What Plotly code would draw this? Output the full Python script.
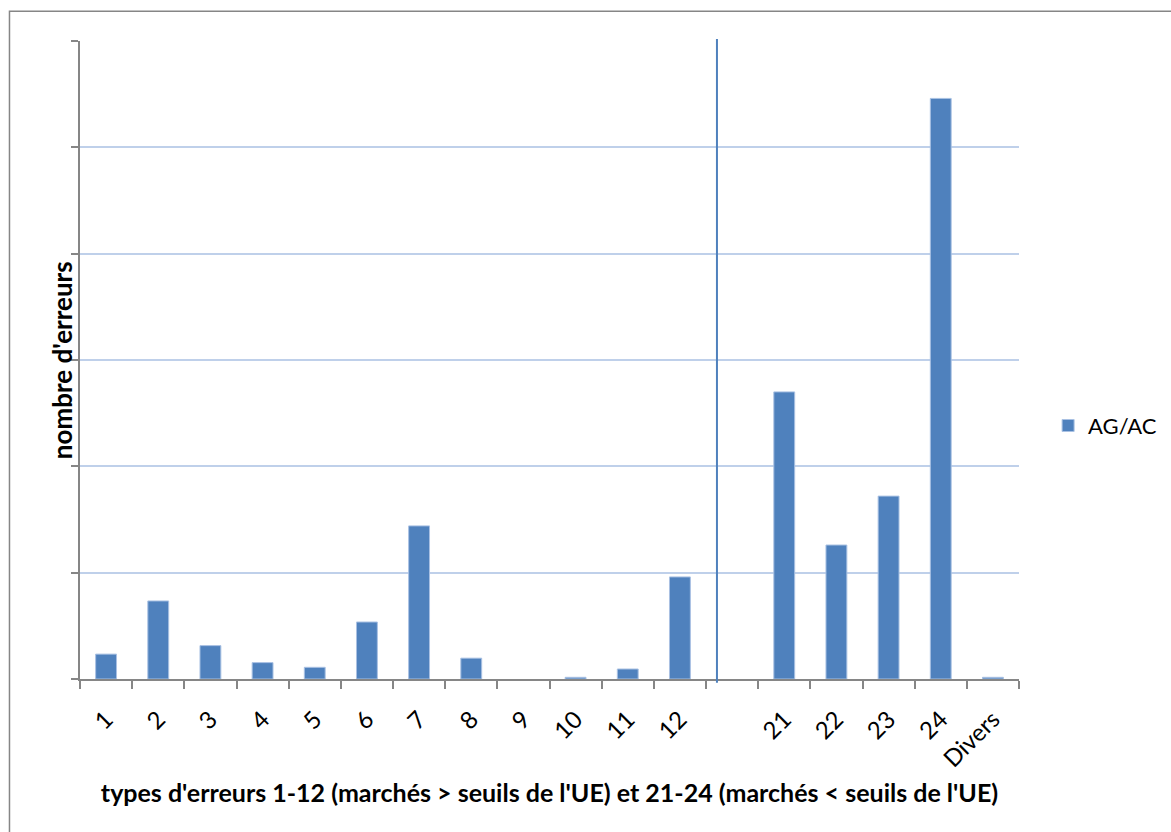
import plotly.graph_objects as go

categories = ["1", "2", "3", "4", "5", "6", "7", "8", "9", "10", "11", "12",
              " ", "21", "22", "23", "24", "Divers"]
values = [11.7, 36.7, 15.7, 7.7, 5.5, 26.8, 72, 9.8, 0, 0.8, 4.7, 48,
          None, 135, 63, 86, 273, 0.8]
series_name = "AG/AC"
separator_after = "12"   # vertical separator between groups 1-12 and 21-24

FONT = "Lato, 'Open Sans', sans-serif"
BAR = "#4F81BD"

fig = go.Figure()
fig.add_trace(go.Bar(
    x=categories, y=values, name=series_name,
    marker=dict(color=BAR,
                line=dict(color="#A9C1E3",
                          width=[0 if not v else 1 for v in values])),
    width=0.4, showlegend=True,
))

sep_x = categories.index(separator_after) + 0.71

fig.update_layout(
    width=1171, height=832,
    margin=dict(l=80, r=152, t=41, b=153, autoexpand=False),
    paper_bgcolor="white", plot_bgcolor="white",
    font=dict(family=FONT, size=22, color="black"),
    showlegend=True,
    legend=dict(x=1.031, xanchor="left", y=0.397, yanchor="middle",
                font=dict(size=22, family=FONT), itemwidth=30,
                borderwidth=0, tracegroupgap=0),
    xaxis=dict(
        type="category", categoryorder="array", categoryarray=categories,
        tickson="boundaries", ticks="outside", ticklen=8, tickwidth=1.5,
        tickcolor="#868686", showline=True, linecolor="#868686", linewidth=1.5,
        tickangle=-45, tickfont=dict(size=24, family=FONT),
        ticklabelstandoff=15,
        showgrid=False, zeroline=False,
        title=dict(text="<b>types d'erreurs 1-12 (marchés > seuils de l'UE) et 21-24 (marchés < seuils de l'UE)</b>",
                   font=dict(size=25, family=FONT), standoff=13),
    ),
    yaxis=dict(
        range=[0, 300], dtick=50, showticklabels=False,
        ticks="outside", ticklen=7, tickwidth=1.5, tickcolor="#868686",
        showline=True, linecolor="#868686", linewidth=1.5,
        showgrid=True, gridcolor="#BFD0EA", gridwidth=1.5, zeroline=False,
    ),
    annotations=[
        dict(text="<b>nombre d'erreurs</b>", textangle=-90,
             xref="paper", yref="paper", x=-0.019, y=0.5,
             xanchor="center", yanchor="middle", showarrow=False,
             font=dict(size=26, family=FONT, color="black")),
    ],
    shapes=[
        dict(type="line", xref="x", yref="paper", x0=sep_x, x1=sep_x,
             y0=-0.006, y1=1.003, line=dict(color=BAR, width=2)),
        dict(type="rect", xref="paper", yref="paper", x0=-0.0751, x1=2.0,
             y0=-1.0, y1=1.0467, line=dict(color="#868686", width=1.5),
             fillcolor="rgba(0,0,0,0)", layer="below"),
    ],
)

fig.write_html("out.html")
